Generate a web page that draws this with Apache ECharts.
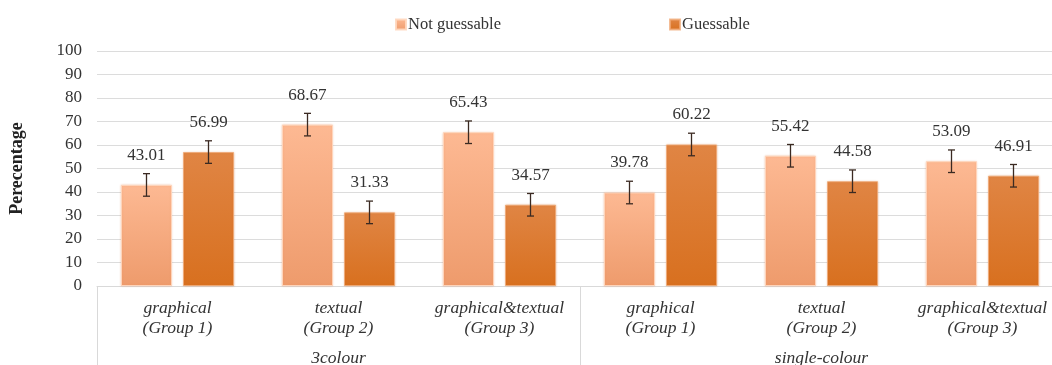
<!DOCTYPE html>
<html>
<head>
<meta charset="utf-8">
<script src="https://cdn.jsdelivr.net/npm/echarts@6/dist/echarts.min.js"></script>
<style>
  html, body { margin: 0; padding: 0; background: #fff; }
  #chart { width: 1052px; height: 365px; }
</style>
</head>
<body>
<div id="chart"></div>
<script>
// Category labels for the six conditions, and the two colour-scheme groups
const categories = [
  'graphical\n(Group 1)', 'textual\n(Group 2)', 'graphical&textual\n(Group 3)',
  'graphical\n(Group 1)', 'textual\n(Group 2)', 'graphical&textual\n(Group 3)'
];
const groups = ['3colour', 'single-colour'];

// Percentages per condition
const notGuessable = [43.01, 68.67, 65.43, 39.78, 55.42, 53.09];
const guessable    = [56.99, 31.33, 34.57, 60.22, 44.58, 46.91];

// Error bar half-widths (percentage points)
const errNotGuessable = [4.8, 4.8, 4.8, 4.8, 4.8, 4.8];
const errGuessable    = [4.8, 4.8, 4.8, 4.8, 4.8, 4.8];

const seriesNames = ['Not guessable', 'Guessable'];

const FONT = '"Liberation Serif", "DejaVu Serif", serif';
const BAR_W = 51;
const BAR_GAP_PX = 11;

const chart = echarts.init(document.getElementById('chart'), null, { renderer: 'canvas' });

function grad(top, bottom) {
  return new echarts.graphic.LinearGradient(0, 0, 0, 1, [
    { offset: 0, color: top },
    { offset: 1, color: bottom }
  ]);
}

// Error bars drawn as a custom series, shifted onto the matching bar
function errorSeries(values, errs, side) {
  return {
    type: 'custom',
    name: seriesNames[side < 0 ? 0 : 1] + ' error',
    xAxisIndex: 0,
    yAxisIndex: 0,
    silent: true,
    z: 5,
    data: values.map((v, i) => [i, v, errs[i]]),
    renderItem: function (params, api) {
      const i = api.value(0), v = api.value(1), e = api.value(2);
      const shift = side * (BAR_W + BAR_GAP_PX) / 2;
      const hi = api.coord([i, v + e]);
      const lo = api.coord([i, v - e]);
      const x = hi[0] + shift;
      const cap = 3.5;
      const style = { stroke: '#3b2a22', lineWidth: 1.3 };
      return {
        type: 'group',
        children: [
          { type: 'line', shape: { x1: x, y1: hi[1], x2: x, y2: lo[1] }, style },
          { type: 'line', shape: { x1: x - cap, y1: hi[1], x2: x + cap, y2: hi[1] }, style },
          { type: 'line', shape: { x1: x - cap, y1: lo[1], x2: x + cap, y2: lo[1] }, style }
        ]
      };
    }
  };
}

const valueLabel = {
  show: true,
  position: 'top',
  distance: 21,
  fontFamily: FONT,
  fontSize: 17,
  color: '#333',
  formatter: p => p.value.toFixed(2)
};

const option = {
  animation: false,
  backgroundColor: '#fff',
  textStyle: { fontFamily: FONT },
  legend: {
    data: seriesNames,
    top: 11,
    left: 390,
    itemWidth: 10,
    itemHeight: 10,
    itemGap: 168,
    icon: 'rect',
    textStyle: { fontFamily: FONT, fontSize: 16.5, color: '#333', padding: [0, 0, 0, -3] }
  },
  grid: {
    left: 97,
    top: 51,
    width: 966,
    height: 235,
    containLabel: false,
    outerBoundsMode: 'none'
  },
  xAxis: [
    {
      type: 'category',
      data: categories,
      position: 'bottom',
      axisLine: { show: true, lineStyle: { color: '#d9d9d9', width: 1 } },
      axisTick: { show: false },
      axisLabel: {
        interval: 0,
        margin: 12,
        fontFamily: FONT,
        fontStyle: 'italic',
        fontSize: 17.5,
        lineHeight: 20,
        color: '#333'
      },
      splitLine: { show: false }
    },
    {
      type: 'category',
      data: groups,
      position: 'bottom',
      offset: 0,
      axisLine: { show: false },
      axisTick: { show: true, length: 85, lineStyle: { color: '#d9d9d9', width: 1 } },
      axisLabel: {
        interval: 0,
        margin: 63,
        fontFamily: FONT,
        fontStyle: 'italic',
        fontSize: 17.5,
        color: '#333'
      }
    }
  ],
  yAxis: {
    type: 'value',
    min: 0,
    max: 100,
    interval: 10,
    name: 'Perecentage',
    nameLocation: 'middle',
    nameGap: 71,
    nameTextStyle: { fontFamily: FONT, fontSize: 18, fontWeight: 'bold', color: '#222' },
    axisLine: { show: false },
    axisTick: { show: false },
    axisLabel: { margin: 15, fontFamily: FONT, fontSize: 17, color: '#333' },
    splitLine: { lineStyle: { color: '#dcdcdc', width: 1 } }
  },
  series: [
    {
      name: seriesNames[0],
      type: 'bar',
      data: notGuessable,
      barWidth: BAR_W,
      barGap: (BAR_GAP_PX / BAR_W * 100).toFixed(1) + '%',
      itemStyle: {
        color: grad('#fdb993', '#ee9b6c'),
        borderColor: 'rgba(255,215,190,0.9)',
        borderWidth: 1,
        shadowColor: 'rgba(230,140,90,0.35)',
        shadowBlur: 2
      },
      label: valueLabel
    },
    {
      name: seriesNames[1],
      type: 'bar',
      data: guessable,
      barWidth: BAR_W,
      itemStyle: {
        color: grad('#e08544', '#d8701f'),
        borderColor: 'rgba(240,170,120,0.8)',
        borderWidth: 1,
        shadowColor: 'rgba(200,110,40,0.35)',
        shadowBlur: 2
      },
      label: valueLabel
    },
    errorSeries(notGuessable, errNotGuessable, -1),
    errorSeries(guessable, errGuessable, 1)
  ],
  color: ['#f9ad84', '#dd7a33']
};

chart.setOption(option);
</script>
</body>
</html>
